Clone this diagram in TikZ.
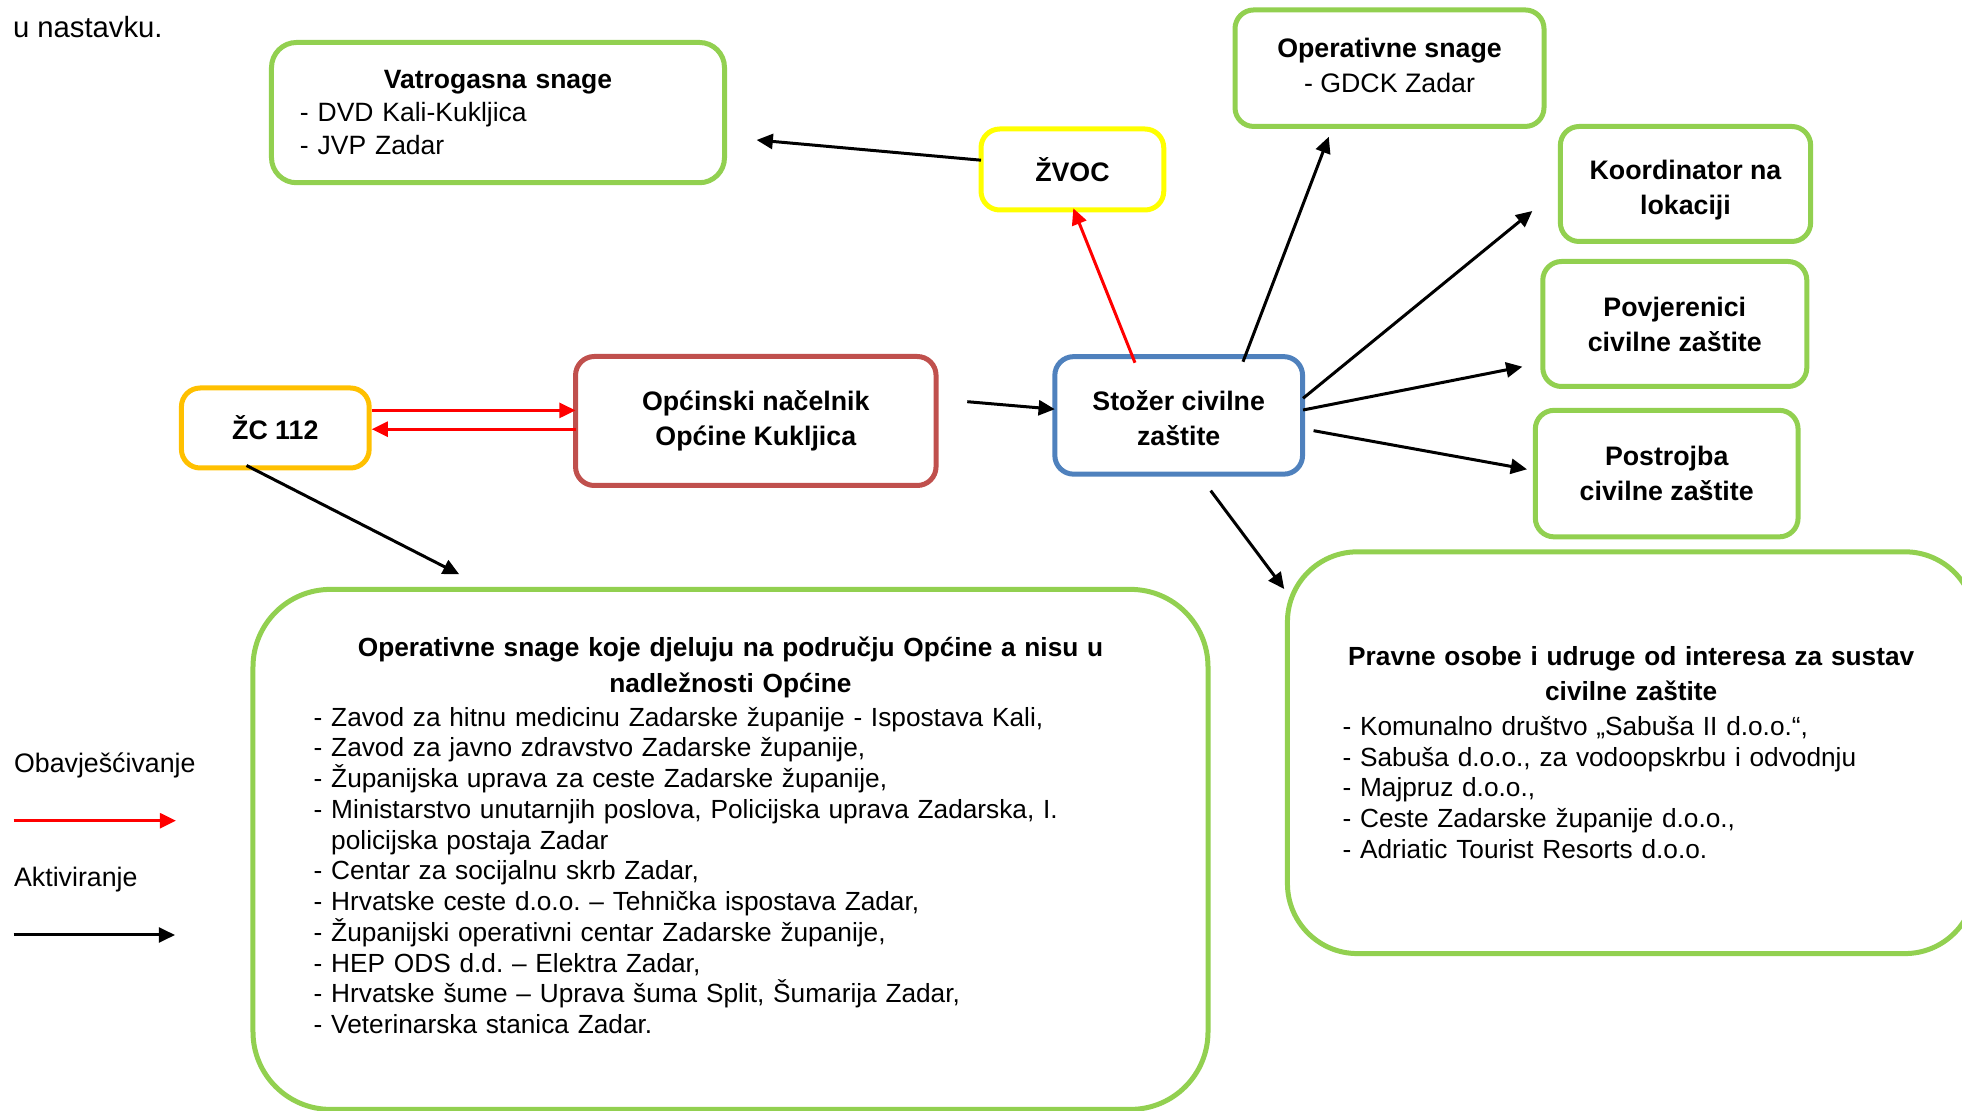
\documentclass[tikz,border=0pt]{standalone}
\usepackage{fontspec}
\setmainfont{Liberation Sans}
\usetikzlibrary{arrows.meta,calc}
\definecolor{grass}{HTML}{92D050}
\definecolor{sun}{HTML}{FFFF00}
\definecolor{amber}{HTML}{FFC000}
\definecolor{brick}{HTML}{C0504D}
\definecolor{steel}{HTML}{4F81BD}
\tikzset{
    box/.style={draw, line width=2pt, rounded corners=7.5pt, inner sep=0pt, outer sep=0pt, align=center},
    boldtxt/.style={font=\bfseries\fontsize{10.7}{14}\selectfont},
    listtxt/.style={align=left, inner sep=0pt},
    legtxt/.style={anchor=base west, inner sep=0pt, font=\fontsize{10.7}{12.3}\selectfont},
    activ/.style={-{Triangle[length=6.5pt,width=6pt]}, line width=1.2pt},
    inform/.style={activ, red}
}
\begin{document}
\begin{tikzpicture}[x=0.4pt, y=-0.4pt, font=\fontsize{10.5}{12.3}\selectfont\frenchspacing]
    \useasboundingbox (0,0) rectangle (1962,1111);
    \clip (0,0) rectangle (1962,1111);
    \node[anchor=base west, inner sep=0pt, font=\fontsize{11.7}{14}\selectfont] (intro) at (12.5,37.5) {u nastavku.};
    \node[box, draw=grass, rounded corners=10pt, minimum width=181.2pt, minimum height=56.1pt, text width=158.4pt, align=left, font=\fontsize{10.6}{13.2}\selectfont] (vatro) at (498,112.6)
        {{\centering\bfseries Vatrogasna snage\par}- DVD Kali-Kukljica\\- JVP Zadar};
    \node[box, draw=sun, minimum width=73.1pt, minimum height=32.4pt, boldtxt] (zvoc) at (1072.4,169.5) {ŽVOC};
    \node[box, draw=grass, minimum width=123.6pt, minimum height=46.6pt, font=\fontsize{10.7}{14}\selectfont] (gdck) at (1389.5,68.2)
        {\textbf{Operativne snage}\\- GDCK Zadar\rule[-2pt]{0pt}{0pt}};
    \node[box, draw=grass, minimum width=100.1pt, minimum height=46pt, boldtxt] (koord) at (1685.5,184) {\rule{0pt}{12.6pt}Koordinator na\\lokaciji};
    \node[box, draw=grass, minimum width=105.6pt, minimum height=50pt, boldtxt] (povj) at (1674.8,324) {Povjerenici\\civilne zaštite};
    \node[box, draw=grass, minimum width=105.1pt, minimum height=50.6pt, boldtxt] (postr) at (1666.7,473.6) {Postrojba\\civilne zaštite};
    \node[box, draw=amber, minimum width=75.1pt, minimum height=32pt, boldtxt] (zc) at (275.3,428) {ŽC 112};
    \node[box, draw=brick, minimum width=144.2pt, minimum height=51.6pt, boldtxt] (nacel) at (755.8,421) {Općinski načelnik\\Općine Kukljica};
    \node[box, draw=steel, minimum width=99.1pt, minimum height=47pt, boldtxt] (stozer) at (1178.7,415.4) {\rule{0pt}{9.8pt}Stožer civilne\\zaštite};
    \node[box, draw=grass, rounded corners=31pt, minimum width=382pt, minimum height=208pt] (opbig) at (730.5,849.4) {};
    \node[listtxt, text width=333.4pt, anchor=north] (opbigtxt) at (730.5,636)
        {{\centering\bfseries\fontsize{10.5}{14.5}\selectfont Operativne snage koje djeluju na području Općine a nisu u\\nadležnosti Općine\par}\vspace{1.2pt}
        - Zavod za hitnu medicinu Zadarske županije - Ispostava Kali,\\
        - Zavod za javno zdravstvo Zadarske županije,\\
        - Županijska uprava za ceste Zadarske županije,\\
        - Ministarstvo unutarnjih poslova, Policijska uprava Zadarska, I.\\
        \phantom{- }policijska postaja Zadar\\
        - Centar za socijalnu skrb Zadar,\\
        - Hrvatske ceste d.o.o. – Tehnička ispostava Zadar,\\
        - Županijski operativni centar Zadarske županije,\\
        - HEP ODS d.d. – Elektra Zadar,\\
        - Hrvatske šume – Uprava šuma Split, Šumarija Zadar,\\
        - Veterinarska stanica Zadar.};
    \node[box, draw=grass, rounded corners=28pt, minimum width=275pt, minimum height=160.7pt, text width=230.9pt, align=left] (pravne) at (1631.2,752.7)
        {{\centering\bfseries\fontsize{10.5}{14}\selectfont Pravne osobe i udruge od interesa za sustav\\civilne zaštite\par}\vspace{1.6pt}
        - Komunalno društvo „Sabuša II d.o.o.“,\\
        - Sabuša d.o.o., za vodoopskrbu i odvodnju\\
        - Majpruz d.o.o.,\\
        - Ceste Zadarske županije d.o.o.,\\
        - Adriatic Tourist Resorts d.o.o.};
    \draw[inform] ($(zc.east)+(2.5,-17.6)$) -- ($(nacel.west)+(0,-10.6)$);
    \draw[inform] ($(nacel.west)+(0,8.2)$) -- ($(zc.east)+(2.5,1.2)$);
    \draw[activ] ($(zc.south)+(-28.8,-2.5)$) -- ($(opbig.north)+(-271.3,-15.1)$);
    \draw[activ] ($(nacel.east)+(31.2,-19.3)$) -- ($(stozer.west)+(0,-6.2)$);
    \draw[activ] ($(zvoc.west)+(0,-9.3)$) -- ($(vatro.east)+(32.1,27.4)$);
    \draw[inform] ($(stozer.north)+(-43.7,6.1)$) -- ($(zvoc.south)+(0.9,-1.7)$);
    \draw[activ] ($(stozer.north)+(64.3,5.1)$) -- ($(gdck.south)+(-60.7,10.3)$);
    \draw[activ] ($(stozer.east)+(0.5,-17.1)$) -- ($(koord.west)+(-28,27)$);
    \draw[activ] ($(stozer.east)+(0.5,-5.4)$) -- ($(povj.west)+(-20.4,42.7)$);
    \draw[activ] ($(stozer.east)+(11,15.3)$) -- ($(postr.west)+(-8.3,-4.3)$);
    \draw[activ] ($(stozer.south)+(32,16.5)$) -- ($(pravne.north west)+(-3.2,37.2)$);
    \node[legtxt] (legobav) at (13.6,773) {Obavješćivanje};
    \coordinate (infa) at (13.6,820.7);
    \coordinate (infb) at (176,820.7);
    \draw[inform] (infa) -- (infb);
    \node[legtxt] (legakt) at (13.6,886.7) {Aktiviranje};
    \coordinate (acta) at (13.6,935);
    \coordinate (actb) at (175,935);
    \draw[activ] (acta) -- (actb);
\end{tikzpicture}
\end{document}
